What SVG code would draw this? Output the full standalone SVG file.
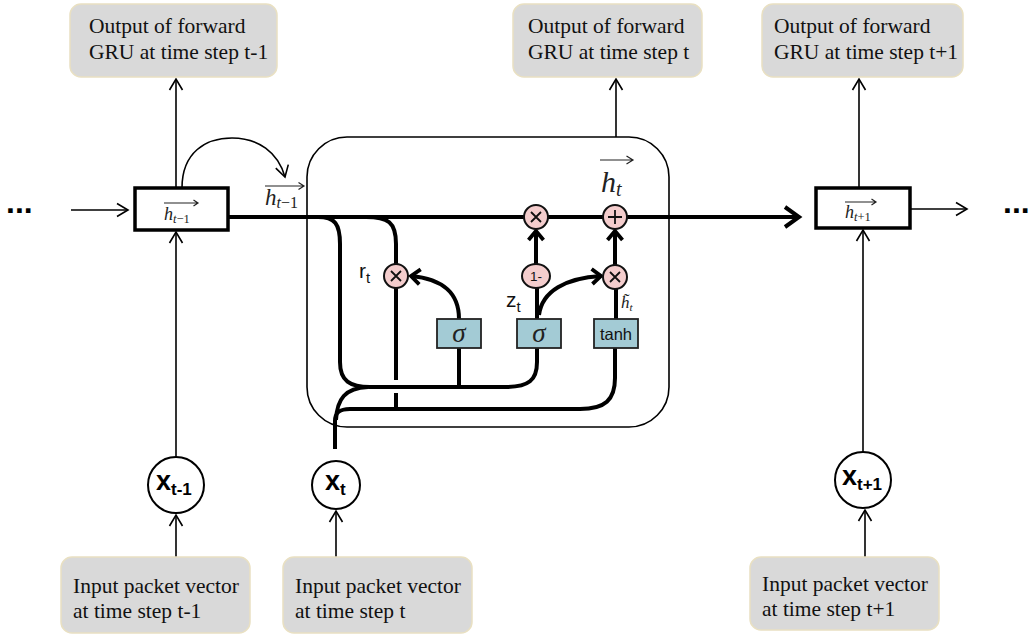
<svg xmlns="http://www.w3.org/2000/svg" width="1029" height="635" viewBox="0 0 1029 635">
  <style>
    .lbl { fill: #d9d9d9; stroke: #e9e0c2; stroke-width: 1.5; }
    .lbltxt { font-family: "Liberation Serif", "Times New Roman", serif; font-size: 21.5px; fill: #111; }
    .state { fill: #fff; stroke: #000; stroke-width: 3.5; }
    .xnode { fill: #fff; stroke: #000; stroke-width: 2; }
    .xtxt { font-family: "Liberation Sans", Arial, sans-serif; font-weight: bold; fill: #000; }
    .thin { fill: none; stroke: #000; stroke-width: 1.6; }
    .thick { fill: none; stroke: #000; stroke-width: 4; }
    .gate { fill: #a3cbd5; stroke: #222; stroke-width: 1.8; }
    .op { fill: #f4cdcd; stroke: #111; stroke-width: 2; }
    .opmark { fill: none; stroke: #111; stroke-width: 1.8; }
    .math { font-family: "Liberation Serif", "Times New Roman", serif; font-style: italic; fill: #222; }
    .up { font-style: normal; }
    .sans { font-family: "Liberation Sans", Arial, sans-serif; fill: #111; }
    .dots { font-family: "Liberation Sans", Arial, sans-serif; font-weight: bold; font-size: 32px; fill: #000; }
    .vec { fill: none; stroke: #222; stroke-width: 1.2; }
  </style>
  <defs>
    <marker id="arrThin" markerUnits="userSpaceOnUse" viewBox="-13 -8 15 16" refX="0" refY="0" markerWidth="15" markerHeight="16" orient="auto" overflow="visible">
      <path d="M-11,-6.5 L0,0 L-11,6.5" fill="none" stroke="#000" stroke-width="1.6"/>
    </marker>
    <marker id="arrThick" markerUnits="userSpaceOnUse" viewBox="-13 -10 15 20" refX="0" refY="0" markerWidth="15" markerHeight="20" orient="auto" overflow="visible">
      <path d="M-9,-7.5 L0,0 L-9,7.5" fill="none" stroke="#000" stroke-width="3.8"/>
    </marker>
    <marker id="arrMain" markerUnits="userSpaceOnUse" viewBox="-16 -12 18 24" refX="0" refY="0" markerWidth="18" markerHeight="24" orient="auto" overflow="visible">
      <path d="M-14,-10 L0,0 L-14,10" fill="none" stroke="#000" stroke-width="4"/>
    </marker>
  </defs>

  <!-- GRU cell outline -->
  <g id="gru-cell">
    <rect x="307" y="137" width="362" height="290" rx="40" ry="40" fill="none" stroke="#000" stroke-width="1.6"/>
  </g>

  <!-- connectors -->
  <g id="connectors">
    <!-- sequence ellipsis arrows -->
    <path class="thin" d="M71,210 H128" marker-end="url(#arrThin)"/>
    <path class="thin" d="M910,209 H967" marker-end="url(#arrThin)"/>
    <!-- outputs -->
    <path class="thin" d="M176,188 V79" marker-end="url(#arrThin)"/>
    <path class="thin" d="M616,137 V79" marker-end="url(#arrThin)"/>
    <path class="thin" d="M859,188 V79" marker-end="url(#arrThin)"/>
    <!-- inputs into states -->
    <path class="thin" d="M176,457 V232" marker-end="url(#arrThin)"/>
    <path class="thin" d="M863,452 V230" marker-end="url(#arrThin)"/>
    <!-- packet vectors into x nodes -->
    <path class="thin" d="M176,557 V515" marker-end="url(#arrThin)"/>
    <path class="thin" d="M336,557 V511" marker-end="url(#arrThin)"/>
    <path class="thin" d="M865,557 V510" marker-end="url(#arrThin)"/>
    <!-- recurrent hop into the cell -->
    <path class="thin" d="M182,188 C182,152 206,138 232,138 C258,138 278,152 285,177" marker-end="url(#arrThin)"/>

    <!-- hidden state highway -->
    <path class="thick" d="M229,217 H799" marker-end="url(#arrMain)"/>
    <!-- h(t-1) into gates -->
    <path class="thick" d="M318,217 C335,217 340,224 340,244 V362 C340,381 350,387 370,387 H505 C529,387 537,380 537,362 V348"/>
    <!-- h(t-1) into reset multiply -->
    <path class="thick" d="M366,217 C388,217 396,222 396,244 V264"/>
    <!-- reset output down to candidate path (hops over gate line) -->
    <path class="thick" d="M396,288 V380"/>
    <path class="thick" d="M396,393 V410"/>
    <!-- reset gate input -->
    <path class="thick" d="M459,348 V389"/>
    <!-- x(t) feed -->
    <path class="thick" d="M335,449 V421 C335,412 340,409 350,409 H580 C605,409 615,400 615,378 V348"/>
    <path class="thick" d="M336,420 C337,399 345,388 368,387"/>
    <!-- reset gate output -->
    <path class="thick" d="M459,319 C459,292 442,279 411,276" marker-end="url(#arrThick)"/>
    <!-- update gate outputs -->
    <path class="thick" d="M537,319 V288"/>
    <path class="thick" d="M539,315 C542,291 566,278 601,276" marker-end="url(#arrThick)"/>
    <!-- candidate up -->
    <path class="thick" d="M616,319 V289"/>
    <!-- into highway ops -->
    <path class="thick" d="M536,264 V231" marker-end="url(#arrThick)"/>
    <path class="thick" d="M615,265 V231" marker-end="url(#arrThick)"/>
  </g>

  <!-- output labels -->
  <g id="out-prev">
    <rect class="lbl" x="70" y="4" width="207" height="73" rx="11"/>
    <text class="lbltxt" x="89" y="33">Output of forward</text>
    <text class="lbltxt" x="89" y="59">GRU at time step t-1</text>
  </g>
  <g id="out-cur">
    <rect class="lbl" x="513" y="4" width="189" height="73" rx="11"/>
    <text class="lbltxt" x="528" y="33">Output of forward</text>
    <text class="lbltxt" x="528" y="59">GRU at time step t</text>
  </g>
  <g id="out-next">
    <rect class="lbl" x="762" y="4" width="201" height="73" rx="11"/>
    <text class="lbltxt" x="774" y="33">Output of forward</text>
    <text class="lbltxt" x="774" y="59">GRU at time step t+1</text>
  </g>

  <!-- input labels -->
  <g id="in-prev">
    <rect class="lbl" x="61" y="557" width="189" height="76" rx="11"/>
    <text class="lbltxt" x="73" y="593">Input packet vector</text>
    <text class="lbltxt" x="73" y="618">at time step t-1</text>
  </g>
  <g id="in-cur">
    <rect class="lbl" x="283" y="557" width="189" height="76" rx="11"/>
    <text class="lbltxt" x="295" y="593">Input packet vector</text>
    <text class="lbltxt" x="295" y="618">at time step t</text>
  </g>
  <g id="in-next">
    <rect class="lbl" x="750" y="557" width="189" height="73" rx="11"/>
    <text class="lbltxt" x="762" y="591">Input packet vector</text>
    <text class="lbltxt" x="762" y="616">at time step t+1</text>
  </g>

  <!-- ellipsis -->
  <g id="dots-left"><text class="dots" x="6" y="213">...</text></g>
  <g id="dots-right"><text class="dots" x="1003" y="213">...</text></g>

  <!-- hidden state boxes -->
  <g id="state-prev">
    <rect class="state" x="135" y="188" width="93" height="42"/>
    <path class="vec" d="M164,203 H198 M193.5,200 L198,203 L193.5,206"/>
    <text class="math" x="164" y="220" font-size="18">h<tspan font-size="12.5" dy="3">t</tspan><tspan class="up" font-size="12.5">−1</tspan></text>
  </g>
  <g id="state-next">
    <rect class="state" x="816" y="188" width="94" height="40"/>
    <path class="vec" d="M845,202 H876 M871.5,199 L876,202 L871.5,205"/>
    <text class="math" x="845" y="218" font-size="18">h<tspan font-size="12.5" dy="3">t</tspan><tspan class="up" font-size="12.5">+1</tspan></text>
  </g>

  <!-- state labels at the cell -->
  <g id="label-hprev">
    <path class="vec" d="M265,186 H304 M298.5,182.5 L304,186 L298.5,189.5"/>
    <text class="math" x="265" y="205" font-size="23">h<tspan font-size="16" dy="3">t</tspan><tspan class="up" font-size="16">−1</tspan></text>
  </g>
  <g id="label-ht">
    <path class="vec" d="M600,160 H633 M626.5,156 L633,160 L626.5,164" stroke-width="1.6"/>
    <text class="math" x="601" y="192" font-size="30">h<tspan font-size="20" dy="4">t</tspan></text>
  </g>

  <!-- x nodes -->
  <g id="x-prev">
    <circle class="xnode" cx="176" cy="485" r="28"/>
    <text class="xtxt" x="156" y="490" font-size="27">x<tspan font-size="17" dy="5">t-1</tspan></text>
  </g>
  <g id="x-cur">
    <circle class="xnode" cx="336" cy="485" r="24"/>
    <text class="xtxt" x="325" y="490" font-size="27">x<tspan font-size="17" dy="5">t</tspan></text>
  </g>
  <g id="x-next">
    <circle class="xnode" cx="863" cy="480" r="28"/>
    <text class="xtxt" x="842" y="485" font-size="27">x<tspan font-size="17" dy="5">t+1</tspan></text>
  </g>

  <!-- gate layers -->
  <g id="gate-reset">
    <rect class="gate" x="437" y="319" width="44" height="29"/>
    <text class="math" x="459" y="342" font-size="27" text-anchor="middle" fill="#222">σ</text>
  </g>
  <g id="gate-update">
    <rect class="gate" x="517" y="319" width="44" height="29"/>
    <text class="math" x="539" y="342" font-size="27" text-anchor="middle" fill="#222">σ</text>
  </g>
  <g id="gate-tanh">
    <rect class="gate" x="594" y="319" width="44" height="29"/>
    <text class="sans" x="616" y="340" font-size="16.5" text-anchor="middle">tanh</text>
  </g>

  <!-- pointwise ops -->
  <g id="op-reset-mul">
    <circle class="op" cx="396" cy="276" r="12"/>
    <path class="opmark" d="M391,271 L401,281 M401,271 L391,281"/>
  </g>
  <g id="op-keep-mul">
    <circle class="op" cx="536" cy="217" r="12"/>
    <path class="opmark" d="M531,212 L541,222 M541,212 L531,222"/>
  </g>
  <g id="op-add">
    <circle class="op" cx="615" cy="217" r="12"/>
    <path class="opmark" d="M608,217 H622 M615,210 V224"/>
  </g>
  <g id="op-one-minus">
    <ellipse class="op" cx="536" cy="276" rx="14" ry="12"/>
    <text class="sans" x="536" y="281" font-size="13.5" text-anchor="middle">1-</text>
  </g>
  <g id="op-cand-mul">
    <circle class="op" cx="615" cy="277" r="12"/>
    <path class="opmark" d="M610,272 L620,282 M620,272 L610,282"/>
  </g>

  <!-- gate labels -->
  <g id="label-rt">
    <text class="sans" x="359" y="278" font-size="21">r<tspan font-size="15" dy="5">t</tspan></text>
  </g>
  <g id="label-zt">
    <text class="sans" x="506" y="307" font-size="21">z<tspan font-size="15" dy="5">t</tspan></text>
  </g>
  <g id="label-htilde">
    <text class="math" x="621" y="308" font-size="17">h&#771;<tspan font-size="11" dy="3">t</tspan></text>
  </g>
</svg>
